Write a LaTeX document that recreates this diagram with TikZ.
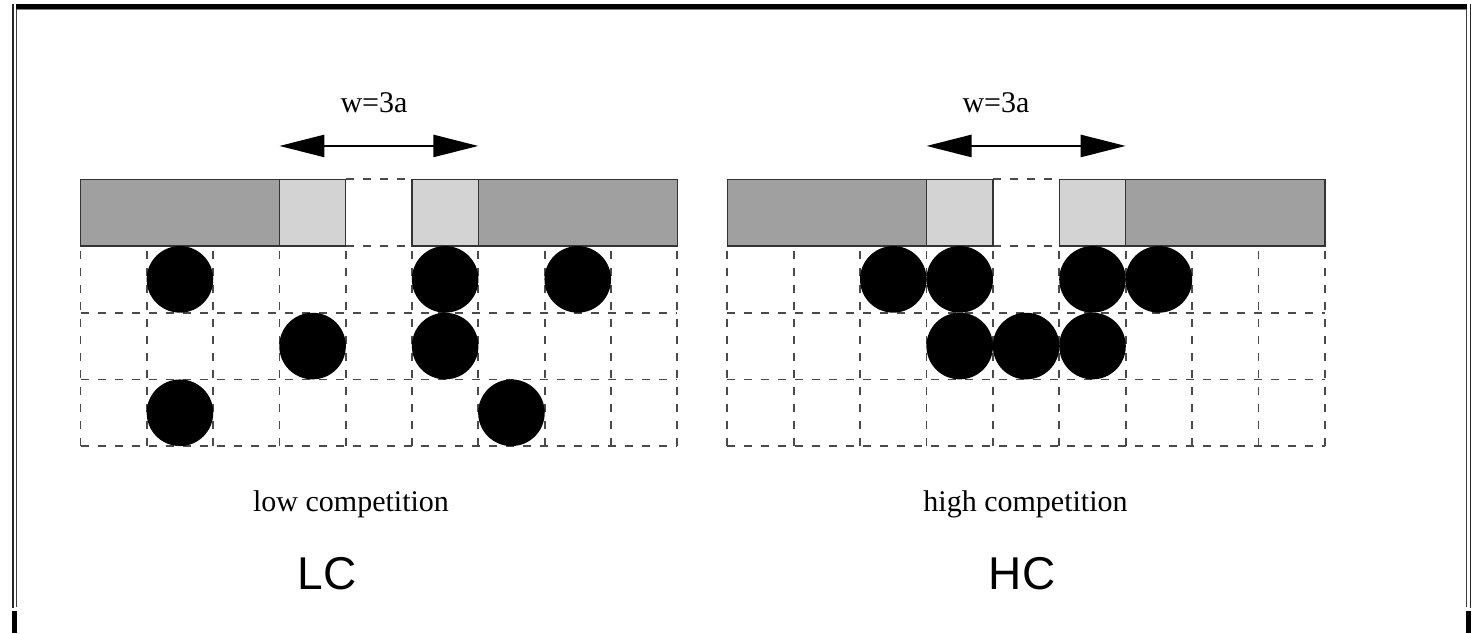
\documentclass[tikz,border=0pt]{standalone}
\usepackage{fontspec}
\setmainfont{Liberation Serif}
\newfontfamily\arialfont{Liberation Sans}
\usetikzlibrary{arrows.meta}
\definecolor{darkbar}{HTML}{A0A0A0}
\definecolor{lightbar}{HTML}{D3D3D3}
\definecolor{gridline}{HTML}{4A4A4A}
\definecolor{frameline}{HTML}{404040}
\begin{document}
\begin{tikzpicture}[x=1pt,y=-1pt,
  gridl/.style={draw=gridline, line width=1.8pt, dash pattern=on 8pt off 9pt},
  barbox/.style={draw=black!80, line width=1.4pt},
  disc/.style={circle, fill=black, minimum size=66.6pt, inner sep=0pt},
  lbl/.style={font=\fontsize{30}{34}\selectfont, inner sep=0pt, anchor=base},
  tag/.style={font=\arialfont\fontsize{46}{52}\selectfont, inner sep=0pt, anchor=base},
  warrow/.style={{Triangle[length=45pt,width=22pt]}-{Triangle[length=45pt,width=22pt]}, line width=2.5pt},
  panel/.pic={
    % dashed grid
    \foreach \i in {0,...,9} \draw[gridl] (\i,4) -- (\i,1);
    \foreach \j in {2,3,4} \draw[gridl] (0,\j) -- (9,\j);
    \draw[gridl] (4,0) -- (5,0);
    \draw[gridl] (4,1) -- (5,1);
    % bars
    \draw[barbox, fill=darkbar] (0,0) rectangle (3,1);
    \draw[barbox, fill=lightbar] (3,0) rectangle (4,1);
    \draw[barbox, fill=lightbar] (5,0) rectangle (6,1);
    \draw[barbox, fill=darkbar] (6,0) rectangle (9,1);
    \coordinate (-wl) at (3,-0.5);
    \coordinate (-wr) at (6,-0.5);
  }]
\useasboundingbox (0,0) rectangle (1475,633);
% frame
\fill[black] (16,4.3) rectangle (1467,9);
\draw[gray, line width=1pt] (16,9.5) -- (1467,9.5);
\draw[black!85, line width=1.8pt] (13,4.3) -- (13,608);
\draw[frameline, line width=1.5pt] (16.5,9) -- (16.5,607);
\draw[frameline, line width=1.8pt] (1466.5,9) -- (1466.5,607);
\draw[black!85, line width=1.8pt] (1470.5,4.3) -- (1470.5,608);
\fill[black] (12,611) rectangle (17,633);
\fill[black] (1466,611) rectangle (1471,633);

% left panel
\begin{scope}[xshift=80.5pt, yshift=-179.3pt, x=66.3pt, y=-66.7pt]
  \pic (L) at (0,0) {panel};
  \node[disc] (L11) at (1.5,1.5) {};
  \node[disc] (L15) at (5.5,1.5) {};
  \node[disc] (L17) at (7.5,1.5) {};
  \node[disc] (L23) at (3.5,2.5) {};
  \node[disc] (L25) at (5.5,2.5) {};
  \node[disc] (L31) at (1.5,3.5) {};
  \node[disc] (L36) at (6.5,3.5) {};
\end{scope}
\draw[warrow] (L-wl) -- (L-wr);

% right panel
\begin{scope}[xshift=727.3pt, yshift=-179.3pt, x=66.4pt, y=-66.7pt]
  \pic (R) at (0,0) {panel};
  \node[disc] (R12) at (2.5,1.5) {};
  \node[disc] (R13) at (3.5,1.5) {};
  \node[disc] (R15) at (5.5,1.5) {};
  \node[disc] (R16) at (6.5,1.5) {};
  \node[disc] (R23) at (3.5,2.5) {};
  \node[disc] (R24) at (4.5,2.5) {};
  \node[disc] (R25) at (5.5,2.5) {};
\end{scope}
\draw[warrow] (R-wl) -- (R-wr);

% texts
\node[lbl] (wL) at (374,112) {w=3a};
\node[lbl] (wR) at (996,112) {w=3a};
\node[lbl] (lowc) at (351,511) {low competition};
\node[lbl] (highc) at (1025.5,511) {high competition};
\node[tag] (LC) at (327,589) {LC};
\node[tag] (HC) at (1022,589) {HC};
\end{tikzpicture}
\end{document}
